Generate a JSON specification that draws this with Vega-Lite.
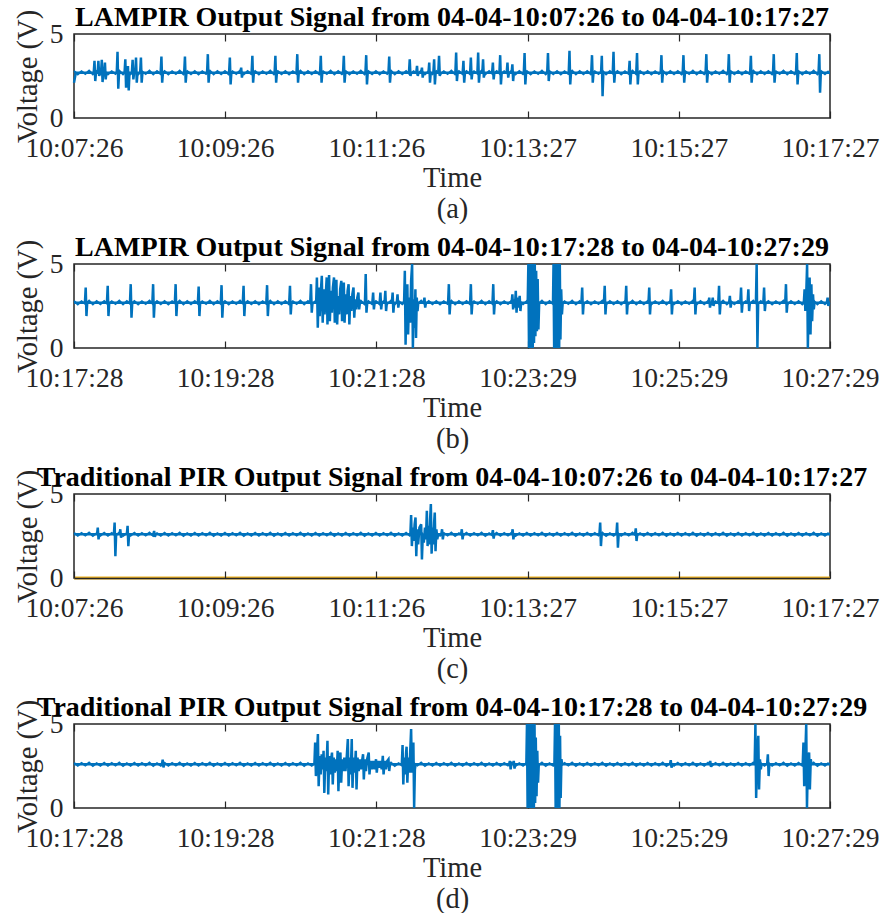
{
"$schema": "https://vega.github.io/schema/vega-lite/v6.json",
"background": "white",
"padding": {"left": 12, "top": 3, "right": 2, "bottom": 2},
"bounds": "flush",
"spacing": 146,
"config": {
  "view": {"stroke": "#262626", "strokeWidth": 1.5},
  "font": "Liberation Serif",
  "axis": {"labelFont": "Liberation Serif", "titleFont": "Liberation Serif", "labelFontSize": 27.5, "titleFontSize": 28.5, "labelColor": "#262626", "titleColor": "#262626", "grid": false, "domain": false, "titleFontWeight": "normal", "tickColor": "#262626", "tickWidth": 1.2},
  "title": {"font": "Liberation Serif", "fontSize": 28, "fontWeight": "bold", "color": "#000000", "baseline": "alphabetic", "offset": -23, "anchor": "middle"}
},
"datasets": {
"noiseAB": [
{"t":0,"v":2.8},{"t":3,"v":2.6},{"t":6,"v":2.78},{"t":9,"v":2.62},{"t":12,"v":2.82},{"t":15,"v":2.59},{"t":18,"v":2.79},{"t":21,"v":2.61},
{"t":24,"v":2.8},{"t":27,"v":2.6},{"t":30,"v":2.78},{"t":33,"v":2.62},{"t":36,"v":2.82},{"t":39,"v":2.59},{"t":42,"v":2.79},{"t":45,"v":2.61},
{"t":48,"v":2.8},{"t":51,"v":2.6},{"t":54,"v":2.78},{"t":57,"v":2.62},{"t":60,"v":2.82},{"t":63,"v":2.59},{"t":66,"v":2.79},{"t":69,"v":2.61},
{"t":72,"v":2.8},{"t":75,"v":2.6},{"t":78,"v":2.78},{"t":81,"v":2.62},{"t":84,"v":2.82},{"t":87,"v":2.59},{"t":90,"v":2.79},{"t":93,"v":2.61},
{"t":96,"v":2.8},{"t":99,"v":2.6},{"t":102,"v":2.78},{"t":105,"v":2.62},{"t":108,"v":2.82},{"t":111,"v":2.59},{"t":114,"v":2.79},{"t":117,"v":2.61},
{"t":120,"v":2.8},{"t":123,"v":2.6},{"t":126,"v":2.78},{"t":129,"v":2.62},{"t":132,"v":2.82},{"t":135,"v":2.59},{"t":138,"v":2.79},{"t":141,"v":2.61},
{"t":144,"v":2.8},{"t":147,"v":2.6},{"t":150,"v":2.78},{"t":153,"v":2.62},{"t":156,"v":2.82},{"t":159,"v":2.59},{"t":162,"v":2.79},{"t":165,"v":2.61},
{"t":168,"v":2.8},{"t":171,"v":2.6},{"t":174,"v":2.78},{"t":177,"v":2.62},{"t":180,"v":2.82},{"t":183,"v":2.59},{"t":186,"v":2.79},{"t":189,"v":2.61},
{"t":192,"v":2.8},{"t":195,"v":2.6},{"t":198,"v":2.78},{"t":201,"v":2.62},{"t":204,"v":2.82},{"t":207,"v":2.59},{"t":210,"v":2.79},{"t":213,"v":2.61},
{"t":216,"v":2.8},{"t":219,"v":2.6},{"t":222,"v":2.78},{"t":225,"v":2.62},{"t":228,"v":2.82},{"t":231,"v":2.59},{"t":234,"v":2.79},{"t":237,"v":2.61},
{"t":240,"v":2.8},{"t":243,"v":2.6},{"t":246,"v":2.78},{"t":249,"v":2.62},{"t":252,"v":2.82},{"t":255,"v":2.59},{"t":258,"v":2.79},{"t":261,"v":2.61},
{"t":264,"v":2.8},{"t":267,"v":2.6},{"t":270,"v":2.78},{"t":273,"v":2.62},{"t":276,"v":2.82},{"t":279,"v":2.59},{"t":282,"v":2.79},{"t":285,"v":2.61},
{"t":288,"v":2.8},{"t":291,"v":2.6},{"t":294,"v":2.78},{"t":297,"v":2.62},{"t":300,"v":2.82},{"t":303,"v":2.59},{"t":306,"v":2.79},{"t":309,"v":2.61},
{"t":312,"v":2.8},{"t":315,"v":2.6},{"t":318,"v":2.78},{"t":321,"v":2.62},{"t":324,"v":2.82},{"t":327,"v":2.59},{"t":330,"v":2.79},{"t":333,"v":2.61},
{"t":336,"v":2.8},{"t":339,"v":2.6},{"t":342,"v":2.78},{"t":345,"v":2.62},{"t":348,"v":2.82},{"t":351,"v":2.59},{"t":354,"v":2.79},{"t":357,"v":2.61},
{"t":360,"v":2.8},{"t":363,"v":2.6},{"t":366,"v":2.78},{"t":369,"v":2.62},{"t":372,"v":2.82},{"t":375,"v":2.59},{"t":378,"v":2.79},{"t":381,"v":2.61},
{"t":384,"v":2.8},{"t":387,"v":2.6},{"t":390,"v":2.78},{"t":393,"v":2.62},{"t":396,"v":2.82},{"t":399,"v":2.59},{"t":402,"v":2.79},{"t":405,"v":2.61},
{"t":408,"v":2.8},{"t":411,"v":2.6},{"t":414,"v":2.78},{"t":417,"v":2.62},{"t":420,"v":2.82},{"t":423,"v":2.59},{"t":426,"v":2.79},{"t":429,"v":2.61},
{"t":432,"v":2.8},{"t":435,"v":2.6},{"t":438,"v":2.78},{"t":441,"v":2.62},{"t":444,"v":2.82},{"t":447,"v":2.59},{"t":450,"v":2.79},{"t":453,"v":2.61},
{"t":456,"v":2.8},{"t":459,"v":2.6},{"t":462,"v":2.78},{"t":465,"v":2.62},{"t":468,"v":2.82},{"t":471,"v":2.59},{"t":474,"v":2.79},{"t":477,"v":2.61},
{"t":480,"v":2.8},{"t":483,"v":2.6},{"t":486,"v":2.78},{"t":489,"v":2.62},{"t":492,"v":2.82},{"t":495,"v":2.59},{"t":498,"v":2.79},{"t":501,"v":2.61},
{"t":504,"v":2.8},{"t":507,"v":2.6},{"t":510,"v":2.78},{"t":513,"v":2.62},{"t":516,"v":2.82},{"t":519,"v":2.59},{"t":522,"v":2.79},{"t":525,"v":2.61},
{"t":528,"v":2.8},{"t":531,"v":2.6},{"t":534,"v":2.78},{"t":537,"v":2.62},{"t":540,"v":2.82},{"t":543,"v":2.59},{"t":546,"v":2.79},{"t":549,"v":2.61},
{"t":552,"v":2.8},{"t":555,"v":2.6},{"t":558,"v":2.78},{"t":561,"v":2.62},{"t":564,"v":2.82},{"t":567,"v":2.59},{"t":570,"v":2.79},{"t":573,"v":2.61},
{"t":576,"v":2.8},{"t":579,"v":2.6},{"t":582,"v":2.78},{"t":585,"v":2.62},{"t":588,"v":2.82},{"t":591,"v":2.59},{"t":594,"v":2.79},{"t":597,"v":2.61},
{"t":600,"v":2.8}
],
"noiseCD": [
{"t":0,"v":2.69},{"t":3,"v":2.51},{"t":6,"v":2.68},{"t":9,"v":2.53},{"t":12,"v":2.7},{"t":15,"v":2.5},{"t":18,"v":2.67},{"t":21,"v":2.52},
{"t":24,"v":2.69},{"t":27,"v":2.51},{"t":30,"v":2.68},{"t":33,"v":2.53},{"t":36,"v":2.7},{"t":39,"v":2.5},{"t":42,"v":2.67},{"t":45,"v":2.52},
{"t":48,"v":2.69},{"t":51,"v":2.51},{"t":54,"v":2.68},{"t":57,"v":2.53},{"t":60,"v":2.7},{"t":63,"v":2.5},{"t":66,"v":2.67},{"t":69,"v":2.52},
{"t":72,"v":2.69},{"t":75,"v":2.51},{"t":78,"v":2.68},{"t":81,"v":2.53},{"t":84,"v":2.7},{"t":87,"v":2.5},{"t":90,"v":2.67},{"t":93,"v":2.52},
{"t":96,"v":2.69},{"t":99,"v":2.51},{"t":102,"v":2.68},{"t":105,"v":2.53},{"t":108,"v":2.7},{"t":111,"v":2.5},{"t":114,"v":2.67},{"t":117,"v":2.52},
{"t":120,"v":2.69},{"t":123,"v":2.51},{"t":126,"v":2.68},{"t":129,"v":2.53},{"t":132,"v":2.7},{"t":135,"v":2.5},{"t":138,"v":2.67},{"t":141,"v":2.52},
{"t":144,"v":2.69},{"t":147,"v":2.51},{"t":150,"v":2.68},{"t":153,"v":2.53},{"t":156,"v":2.7},{"t":159,"v":2.5},{"t":162,"v":2.67},{"t":165,"v":2.52},
{"t":168,"v":2.69},{"t":171,"v":2.51},{"t":174,"v":2.68},{"t":177,"v":2.53},{"t":180,"v":2.7},{"t":183,"v":2.5},{"t":186,"v":2.67},{"t":189,"v":2.52},
{"t":192,"v":2.69},{"t":195,"v":2.51},{"t":198,"v":2.68},{"t":201,"v":2.53},{"t":204,"v":2.7},{"t":207,"v":2.5},{"t":210,"v":2.67},{"t":213,"v":2.52},
{"t":216,"v":2.69},{"t":219,"v":2.51},{"t":222,"v":2.68},{"t":225,"v":2.53},{"t":228,"v":2.7},{"t":231,"v":2.5},{"t":234,"v":2.67},{"t":237,"v":2.52},
{"t":240,"v":2.69},{"t":243,"v":2.51},{"t":246,"v":2.68},{"t":249,"v":2.53},{"t":252,"v":2.7},{"t":255,"v":2.5},{"t":258,"v":2.67},{"t":261,"v":2.52},
{"t":264,"v":2.69},{"t":267,"v":2.51},{"t":270,"v":2.68},{"t":273,"v":2.53},{"t":276,"v":2.7},{"t":279,"v":2.5},{"t":282,"v":2.67},{"t":285,"v":2.52},
{"t":288,"v":2.69},{"t":291,"v":2.51},{"t":294,"v":2.68},{"t":297,"v":2.53},{"t":300,"v":2.7},{"t":303,"v":2.5},{"t":306,"v":2.67},{"t":309,"v":2.52},
{"t":312,"v":2.69},{"t":315,"v":2.51},{"t":318,"v":2.68},{"t":321,"v":2.53},{"t":324,"v":2.7},{"t":327,"v":2.5},{"t":330,"v":2.67},{"t":333,"v":2.52},
{"t":336,"v":2.69},{"t":339,"v":2.51},{"t":342,"v":2.68},{"t":345,"v":2.53},{"t":348,"v":2.7},{"t":351,"v":2.5},{"t":354,"v":2.67},{"t":357,"v":2.52},
{"t":360,"v":2.69},{"t":363,"v":2.51},{"t":366,"v":2.68},{"t":369,"v":2.53},{"t":372,"v":2.7},{"t":375,"v":2.5},{"t":378,"v":2.67},{"t":381,"v":2.52},
{"t":384,"v":2.69},{"t":387,"v":2.51},{"t":390,"v":2.68},{"t":393,"v":2.53},{"t":396,"v":2.7},{"t":399,"v":2.5},{"t":402,"v":2.67},{"t":405,"v":2.52},
{"t":408,"v":2.69},{"t":411,"v":2.51},{"t":414,"v":2.68},{"t":417,"v":2.53},{"t":420,"v":2.7},{"t":423,"v":2.5},{"t":426,"v":2.67},{"t":429,"v":2.52},
{"t":432,"v":2.69},{"t":435,"v":2.51},{"t":438,"v":2.68},{"t":441,"v":2.53},{"t":444,"v":2.7},{"t":447,"v":2.5},{"t":450,"v":2.67},{"t":453,"v":2.52},
{"t":456,"v":2.69},{"t":459,"v":2.51},{"t":462,"v":2.68},{"t":465,"v":2.53},{"t":468,"v":2.7},{"t":471,"v":2.5},{"t":474,"v":2.67},{"t":477,"v":2.52},
{"t":480,"v":2.69},{"t":483,"v":2.51},{"t":486,"v":2.68},{"t":489,"v":2.53},{"t":492,"v":2.7},{"t":495,"v":2.5},{"t":498,"v":2.67},{"t":501,"v":2.52},
{"t":504,"v":2.69},{"t":507,"v":2.51},{"t":510,"v":2.68},{"t":513,"v":2.53},{"t":516,"v":2.7},{"t":519,"v":2.5},{"t":522,"v":2.67},{"t":525,"v":2.52},
{"t":528,"v":2.69},{"t":531,"v":2.51},{"t":534,"v":2.68},{"t":537,"v":2.53},{"t":540,"v":2.7},{"t":543,"v":2.5},{"t":546,"v":2.67},{"t":549,"v":2.52},
{"t":552,"v":2.69},{"t":555,"v":2.51},{"t":558,"v":2.68},{"t":561,"v":2.53},{"t":564,"v":2.7},{"t":567,"v":2.5},{"t":570,"v":2.67},{"t":573,"v":2.52},
{"t":576,"v":2.69},{"t":579,"v":2.51},{"t":582,"v":2.68},{"t":585,"v":2.53},{"t":588,"v":2.7},{"t":591,"v":2.5},{"t":594,"v":2.67},{"t":597,"v":2.52},
{"t":600,"v":2.69}
],
"a": [
{"t":0,"v":2.1},{"t":1.5,"v":2.7},
{"t":15.7,"v":2.7},{"t":16.3,"v":3.4},{"t":16.9,"v":2.2},{"t":17.5,"v":2.7},
{"t":18.8,"v":2.7},{"t":19.4,"v":3.4},{"t":20.0,"v":2.5},{"t":20.6,"v":2.7},
{"t":21.5,"v":2.7},{"t":22.1,"v":3.46},{"t":22.7,"v":2.14},{"t":23.3,"v":2.7},
{"t":24.0,"v":2.7},{"t":24.6,"v":3.3},{"t":25.2,"v":2.3},{"t":25.8,"v":2.7},
{"t":34.0,"v":2.7},{"t":34.6,"v":3.94},{"t":35.2,"v":1.74},{"t":35.8,"v":2.7},
{"t":40.2,"v":2.7},{"t":40.8,"v":3.5},{"t":41.4,"v":1.8},{"t":42.0,"v":2.7},
{"t":42.3,"v":2.7},{"t":42.9,"v":3.1},{"t":43.5,"v":1.64},{"t":44.1,"v":2.7},
{"t":46.0,"v":2.7},{"t":46.6,"v":3.46},{"t":47.2,"v":2.3},{"t":47.8,"v":2.7},
{"t":48.7,"v":2.7},{"t":49.3,"v":3.6},{"t":49.9,"v":2.1},{"t":50.5,"v":2.7},
{"t":52.6,"v":2.7},{"t":53.2,"v":3.6},{"t":53.8,"v":2.1},{"t":54.4,"v":2.7},
{"t":68.9,"v":2.7},{"t":69.5,"v":3.66},{"t":70.1,"v":2.1},{"t":70.7,"v":2.7},
{"t":87.6,"v":2.7},{"t":88.2,"v":3.66},{"t":88.8,"v":2.1},{"t":89.4,"v":2.7},
{"t":105.8,"v":2.7},{"t":106.4,"v":3.8},{"t":107.0,"v":2.1},{"t":107.6,"v":2.7},
{"t":123.3,"v":2.7},{"t":123.9,"v":3.6},{"t":124.5,"v":2.0},{"t":125.1,"v":2.7},
{"t":132.3,"v":2.7},{"t":132.9,"v":3.0},{"t":133.5,"v":2.4},{"t":134.1,"v":2.7},
{"t":141.2,"v":2.7},{"t":141.8,"v":3.7},{"t":142.4,"v":2.1},{"t":143.0,"v":2.7},
{"t":159.5,"v":2.7},{"t":160.1,"v":3.7},{"t":160.7,"v":2.1},{"t":161.3,"v":2.7},
{"t":176.9,"v":2.7},{"t":177.5,"v":3.8},{"t":178.1,"v":2.1},{"t":178.7,"v":2.7},
{"t":195.6,"v":2.7},{"t":196.2,"v":3.7},{"t":196.8,"v":2.1},{"t":197.4,"v":2.7},
{"t":213.9,"v":2.7},{"t":214.5,"v":3.7},{"t":215.1,"v":2.1},{"t":215.7,"v":2.7},
{"t":231.7,"v":2.7},{"t":232.3,"v":3.74},{"t":232.9,"v":2.0},{"t":233.5,"v":2.7},
{"t":250.0,"v":2.7},{"t":250.6,"v":3.66},{"t":251.2,"v":2.1},{"t":251.8,"v":2.7},
{"t":266.3,"v":2.7},{"t":266.9,"v":3.5},{"t":267.5,"v":2.5},{"t":268.1,"v":2.7},
{"t":272.1,"v":2.7},{"t":272.7,"v":3.1},{"t":273.3,"v":2.5},{"t":273.9,"v":2.7},
{"t":276.0,"v":2.7},{"t":276.6,"v":3.0},{"t":277.2,"v":2.4},{"t":277.8,"v":2.7},
{"t":281.8,"v":2.7},{"t":282.4,"v":3.3},{"t":283.0,"v":2.1},{"t":283.6,"v":2.7},
{"t":285.7,"v":2.7},{"t":286.3,"v":3.5},{"t":286.9,"v":2.0},{"t":287.5,"v":2.7},
{"t":289.6,"v":2.7},{"t":290.2,"v":3.7},{"t":290.8,"v":2.5},{"t":291.4,"v":2.7},
{"t":303.2,"v":2.7},{"t":303.8,"v":3.9},{"t":304.4,"v":2.2},{"t":305.0,"v":2.7},
{"t":309.0,"v":2.7},{"t":309.6,"v":3.4},{"t":310.2,"v":2.1},{"t":310.8,"v":2.7},
{"t":314.9,"v":2.7},{"t":315.5,"v":3.6},{"t":316.1,"v":2.3},{"t":316.7,"v":2.7},
{"t":320.7,"v":2.7},{"t":321.3,"v":3.9},{"t":321.9,"v":2.1},{"t":322.5,"v":2.7},
{"t":324.6,"v":2.7},{"t":325.2,"v":3.5},{"t":325.8,"v":2.4},{"t":326.4,"v":2.7},
{"t":332.4,"v":2.7},{"t":333.0,"v":3.3},{"t":333.6,"v":2.3},{"t":334.2,"v":2.7},
{"t":338.2,"v":2.7},{"t":338.8,"v":3.74},{"t":339.4,"v":2.0},{"t":340.0,"v":2.7},
{"t":344.0,"v":2.7},{"t":344.6,"v":3.3},{"t":345.2,"v":2.4},{"t":345.8,"v":2.7},
{"t":347.9,"v":2.7},{"t":348.5,"v":3.2},{"t":349.1,"v":2.2},{"t":349.7,"v":2.7},
{"t":357.6,"v":2.7},{"t":358.2,"v":3.86},{"t":358.8,"v":2.0},{"t":359.4,"v":2.7},
{"t":376.2,"v":2.7},{"t":376.8,"v":3.86},{"t":377.4,"v":2.2},{"t":378.0,"v":2.7},
{"t":393.3,"v":2.7},{"t":393.9,"v":4.0},{"t":394.5,"v":2.0},{"t":395.1,"v":2.7},
{"t":411.2,"v":2.7},{"t":411.8,"v":3.74},{"t":412.4,"v":2.1},{"t":413.0,"v":2.7},
{"t":419.0,"v":2.7},{"t":419.6,"v":3.7},{"t":420.2,"v":1.3},{"t":420.8,"v":2.7},
{"t":428.3,"v":2.7},{"t":428.9,"v":3.94},{"t":429.5,"v":2.1},{"t":430.1,"v":2.7},
{"t":441.1,"v":2.7},{"t":441.7,"v":3.4},{"t":442.3,"v":2.0},{"t":442.9,"v":2.7},
{"t":447.0,"v":2.7},{"t":447.6,"v":3.86},{"t":448.2,"v":2.0},{"t":448.8,"v":2.7},
{"t":466.4,"v":2.7},{"t":467.0,"v":3.74},{"t":467.6,"v":2.1},{"t":468.2,"v":2.7},
{"t":483.9,"v":2.7},{"t":484.5,"v":3.74},{"t":485.1,"v":2.1},{"t":485.7,"v":2.7},
{"t":502.1,"v":2.7},{"t":502.7,"v":3.8},{"t":503.3,"v":2.1},{"t":503.9,"v":2.7},
{"t":520.0,"v":2.7},{"t":520.6,"v":3.8},{"t":521.2,"v":2.1},{"t":521.8,"v":2.7},
{"t":537.5,"v":2.7},{"t":538.1,"v":3.7},{"t":538.7,"v":2.1},{"t":539.3,"v":2.7},
{"t":555.7,"v":2.7},{"t":556.3,"v":3.8},{"t":556.9,"v":2.1},{"t":557.5,"v":2.7},
{"t":574.0,"v":2.7},{"t":574.6,"v":3.86},{"t":575.2,"v":2.0},{"t":575.8,"v":2.7},
{"t":591.9,"v":2.7},{"t":592.5,"v":3.8},{"t":593.1,"v":1.5},{"t":593.7,"v":2.7},
{"t":601,"v":2.7}
],
"b": [
{"t":0,"v":2.7},
{"t":8.7,"v":2.7},{"t":9.3,"v":3.6},{"t":9.9,"v":1.9},{"t":10.5,"v":2.7},
{"t":26.2,"v":2.7},{"t":26.8,"v":3.7},{"t":27.4,"v":1.9},{"t":28.0,"v":2.7},
{"t":44.5,"v":2.7},{"t":45.1,"v":3.8},{"t":45.7,"v":1.8},{"t":46.3,"v":2.7},
{"t":62.3,"v":2.7},{"t":62.9,"v":3.8},{"t":63.5,"v":1.8},{"t":64.1,"v":2.7},
{"t":80.2,"v":2.7},{"t":80.8,"v":3.8},{"t":81.4,"v":1.9},{"t":82.0,"v":2.7},
{"t":98.5,"v":2.7},{"t":99.1,"v":3.66},{"t":99.7,"v":1.9},{"t":100.3,"v":2.7},
{"t":116.7,"v":2.7},{"t":117.3,"v":3.74},{"t":117.9,"v":1.8},{"t":118.5,"v":2.7},
{"t":134.2,"v":2.7},{"t":134.8,"v":3.7},{"t":135.4,"v":1.9},{"t":136.0,"v":2.7},
{"t":152.9,"v":2.7},{"t":153.5,"v":3.74},{"t":154.1,"v":1.9},{"t":154.7,"v":2.7},
{"t":171.1,"v":2.7},{"t":171.7,"v":3.7},{"t":172.3,"v":2.0},{"t":172.9,"v":2.7},
{"t":187.8,"v":2.7},{"t":188.4,"v":3.8},{"t":189.0,"v":2.1},{"t":189.6,"v":2.7},
{"t":192.5,"v":2.7},{"t":193.1,"v":4.2},{"t":193.8,"v":1.2},{"t":194.6,"v":3.6},{"t":195.3,"v":1.9},{"t":196.1,"v":3.2},{"t":197.0,"v":4.3},{"t":197.7,"v":1.5},{"t":198.5,"v":3.5},{"t":199.2,"v":2.0},{"t":200.0,"v":3.0},{"t":200.9,"v":4.2},{"t":201.5,"v":1.4},{"t":202.1,"v":3.3},{"t":202.8,"v":4.34},{"t":203.4,"v":1.6},{"t":204.2,"v":3.4},{"t":205.0,"v":2.1},{"t":205.8,"v":3.6},{"t":206.7,"v":4.2},{"t":207.3,"v":1.5},{"t":208.0,"v":3.2},{"t":208.6,"v":4.06},{"t":209.2,"v":1.4},{"t":210.0,"v":3.1},{"t":210.8,"v":2.0},{"t":211.6,"v":3.5},{"t":212.5,"v":4.0},{"t":213.1,"v":1.6},{"t":213.8,"v":3.0},{"t":214.5,"v":3.9},{"t":215.1,"v":1.5},{"t":215.9,"v":3.2},{"t":216.7,"v":2.0},{"t":217.5,"v":3.4},{"t":218.3,"v":3.8},{"t":218.9,"v":1.4},{"t":219.7,"v":3.1},{"t":220.5,"v":2.2},{"t":221.3,"v":3.2},{"t":222.2,"v":3.6},{"t":222.8,"v":1.8},{"t":223.6,"v":2.9},{"t":224.4,"v":2.3},{"t":225.2,"v":3.0},{"t":226.1,"v":3.3},{"t":226.7,"v":2.3},{"t":227.3,"v":2.7},
{"t":231.3,"v":2.7},{"t":231.9,"v":4.4},{"t":232.5,"v":2.1},{"t":233.1,"v":2.7},
{"t":237.2,"v":2.7},{"t":237.8,"v":3.3},{"t":238.4,"v":2.3},{"t":239.0,"v":2.7},
{"t":243.0,"v":2.7},{"t":243.6,"v":3.3},{"t":244.2,"v":2.3},{"t":244.8,"v":2.7},
{"t":246.9,"v":2.7},{"t":247.5,"v":3.4},{"t":248.1,"v":2.2},{"t":248.7,"v":2.7},
{"t":252.7,"v":2.7},{"t":253.3,"v":3.3},{"t":253.9,"v":2.1},{"t":254.5,"v":2.7},
{"t":256.6,"v":2.7},{"t":257.2,"v":3.2},{"t":257.8,"v":2.4},{"t":258.4,"v":2.7},
{"t":262.4,"v":2.7},{"t":263.0,"v":4.6},{"t":263.6,"v":0.2},{"t":264.3,"v":3.2},{"t":265.0,"v":3.8},{"t":265.6,"v":0.8},{"t":266.4,"v":3.0},{"t":267.2,"v":1.5},{"t":268.0,"v":4.0},{"t":268.8,"v":5.0},{"t":269.4,"v":0.0},{"t":270.1,"v":2.9},{"t":270.8,"v":1.2},{"t":271.4,"v":3.5},{"t":271.9,"v":0.6},{"t":272.5,"v":3.0},{"t":273.1,"v":2.2},{"t":273.7,"v":2.7},
{"t":278.0,"v":2.7},{"t":278.6,"v":3.0},{"t":279.2,"v":2.4},{"t":279.8,"v":2.7},
{"t":297.4,"v":2.7},{"t":298.0,"v":3.8},{"t":298.6,"v":2.0},{"t":299.2,"v":2.7},
{"t":314.9,"v":2.7},{"t":315.5,"v":3.8},{"t":316.1,"v":2.0},{"t":316.7,"v":2.7},
{"t":332.7,"v":2.7},{"t":333.3,"v":3.8},{"t":333.9,"v":2.0},{"t":334.5,"v":2.7},
{"t":347.9,"v":2.7},{"t":348.5,"v":3.2},{"t":349.1,"v":2.3},{"t":349.8,"v":2.9},{"t":350.5,"v":2.4},{"t":351.2,"v":3.4},{"t":351.8,"v":2.1},{"t":352.6,"v":3.0},{"t":353.5,"v":2.4},{"t":354.3,"v":3.1},{"t":354.9,"v":2.2},{"t":355.5,"v":2.7},
{"t":360.7,"v":2.7},{"t":361.2,"v":5},{"t":361.7,"v":0},{"t":362.2,"v":5},{"t":362.7,"v":0},{"t":363.2,"v":5},{"t":363.7,"v":0},{"t":364.2,"v":5},{"t":364.7,"v":0},{"t":365.2,"v":5},{"t":365.7,"v":0.3},{"t":366.3,"v":5},{"t":366.8,"v":0.7},{"t":367.4,"v":4.6},{"t":368.0,"v":1.0},{"t":368.6,"v":4.1},{"t":369.2,"v":1.1},{"t":369.8,"v":2.7},
{"t":380.8,"v":2.7},{"t":381.2,"v":5},{"t":381.7,"v":0},{"t":382.2,"v":5},{"t":382.7,"v":0},{"t":383.2,"v":5},{"t":383.7,"v":0},{"t":384.2,"v":5},{"t":384.7,"v":0},{"t":385.2,"v":5},{"t":385.7,"v":0},{"t":386.2,"v":5},{"t":386.7,"v":0.5},{"t":387.3,"v":3.5},{"t":387.9,"v":2.0},{"t":388.5,"v":2.7},
{"t":403.4,"v":2.7},{"t":404.0,"v":3.6},{"t":404.6,"v":2.0},{"t":405.2,"v":2.7},
{"t":421.3,"v":2.7},{"t":421.9,"v":3.7},{"t":422.5,"v":2.0},{"t":423.1,"v":2.7},
{"t":438.4,"v":2.7},{"t":439.0,"v":3.7},{"t":439.6,"v":2.0},{"t":440.2,"v":2.7},
{"t":456.7,"v":2.7},{"t":457.3,"v":3.6},{"t":457.9,"v":2.0},{"t":458.5,"v":2.7},
{"t":474.1,"v":2.7},{"t":474.7,"v":3.5},{"t":475.3,"v":2.0},{"t":475.9,"v":2.7},
{"t":492.8,"v":2.7},{"t":493.4,"v":3.6},{"t":494.0,"v":2.0},{"t":494.6,"v":2.7},
{"t":504.4,"v":2.7},{"t":505.0,"v":3.0},{"t":505.6,"v":2.4},{"t":506.2,"v":2.7},
{"t":507.2,"v":2.7},{"t":507.8,"v":3.0},{"t":508.4,"v":2.5},{"t":509.0,"v":2.7},
{"t":512.2,"v":2.7},{"t":512.8,"v":3.7},{"t":513.4,"v":2.0},{"t":514.0,"v":2.7},
{"t":520.8,"v":2.7},{"t":521.4,"v":3.1},{"t":522.0,"v":2.4},{"t":522.6,"v":2.7},
{"t":529.7,"v":2.7},{"t":530.3,"v":3.6},{"t":530.9,"v":2.1},{"t":531.5,"v":2.7},
{"t":535.5,"v":2.7},{"t":536.1,"v":3.5},{"t":536.7,"v":2.2},{"t":537.3,"v":2.7},
{"t":542.1,"v":2.7},{"t":542.7,"v":5.0},{"t":543.3,"v":0.0},{"t":543.9,"v":2.7},
{"t":548.0,"v":2.7},{"t":548.6,"v":3.6},{"t":549.2,"v":2.2},{"t":549.8,"v":2.7},
{"t":565.4,"v":2.7},{"t":566.0,"v":3.8},{"t":566.6,"v":2.1},{"t":567.2,"v":2.7},
{"t":580.2,"v":2.7},{"t":580.8,"v":3.5},{"t":581.4,"v":2.2},{"t":582.0,"v":2.9},{"t":582.8,"v":5.0},{"t":583.4,"v":0.0},{"t":584.1,"v":3.0},{"t":584.8,"v":4.2},{"t":585.5,"v":0.8},{"t":586.2,"v":3.8},{"t":586.8,"v":1.6},{"t":587.5,"v":3.2},{"t":588.1,"v":2.3},{"t":588.7,"v":2.7},
{"t":598.5,"v":2.7},{"t":599.1,"v":3.0},{"t":599.7,"v":2.5},{"t":600.3,"v":2.7},
{"t":601,"v":2.7}
],
"c": [
{"t":0,"v":2.6},
{"t":18.3,"v":2.6},{"t":18.9,"v":3.0},{"t":19.5,"v":2.3},{"t":20.1,"v":2.6},
{"t":31.7,"v":2.6},{"t":32.3,"v":3.3},{"t":32.9,"v":1.3},{"t":33.5,"v":2.6},
{"t":36.2,"v":2.6},{"t":36.8,"v":2.9},{"t":37.4,"v":2.4},{"t":38.0,"v":2.6},
{"t":42.0,"v":2.6},{"t":42.6,"v":3.1},{"t":43.2,"v":1.9},{"t":43.8,"v":2.6},
{"t":63.1,"v":2.6},{"t":63.7,"v":2.8},{"t":64.3,"v":2.45},{"t":64.9,"v":2.6},
{"t":267.4,"v":2.6},{"t":268.0,"v":3.75},{"t":268.6,"v":1.9},{"t":269.3,"v":3.0},{"t":270.0,"v":2.2},{"t":270.8,"v":3.2},{"t":271.5,"v":3.6},{"t":272.1,"v":1.3},{"t":272.8,"v":2.9},{"t":273.6,"v":2.0},{"t":274.6,"v":3.0},{"t":276.0,"v":3.2},{"t":276.6,"v":1.1},{"t":277.3,"v":2.6},{"t":278.1,"v":2.1},{"t":279.0,"v":3.0},{"t":279.8,"v":2.3},{"t":280.5,"v":4.0},{"t":281.1,"v":1.9},{"t":281.8,"v":3.1},{"t":282.5,"v":2.0},{"t":283.1,"v":3.5},{"t":283.7,"v":4.4},{"t":284.3,"v":1.45},{"t":285.0,"v":3.0},{"t":285.7,"v":2.0},{"t":286.3,"v":3.3},{"t":286.8,"v":3.9},{"t":287.4,"v":1.6},{"t":288.1,"v":2.9},{"t":288.8,"v":2.3},{"t":289.5,"v":2.6},
{"t":292.0,"v":2.6},{"t":292.6,"v":2.9},{"t":293.2,"v":2.3},{"t":293.8,"v":2.6},
{"t":307.7,"v":2.6},{"t":308.3,"v":2.9},{"t":308.9,"v":2.3},{"t":309.5,"v":2.6},
{"t":332.4,"v":2.6},{"t":333.0,"v":2.85},{"t":333.6,"v":2.35},{"t":334.2,"v":2.6},
{"t":348.1,"v":2.6},{"t":348.7,"v":2.9},{"t":349.3,"v":2.3},{"t":349.9,"v":2.6},
{"t":417.7,"v":2.6},{"t":418.3,"v":3.3},{"t":418.9,"v":1.9},{"t":419.5,"v":2.6},
{"t":431.2,"v":2.6},{"t":431.8,"v":3.3},{"t":432.4,"v":1.8},{"t":433.0,"v":2.6},
{"t":446.0,"v":2.6},{"t":446.6,"v":2.95},{"t":447.2,"v":2.2},{"t":447.8,"v":2.6},
{"t":601,"v":2.6}
],
"d": [
{"t":0,"v":2.6},
{"t":69.9,"v":2.6},{"t":70.5,"v":2.88},{"t":71.1,"v":2.42},{"t":71.7,"v":2.6},
{"t":191.1,"v":2.6},{"t":191.7,"v":3.9},{"t":192.3,"v":1.9},{"t":193.0,"v":3.0},{"t":193.9,"v":4.4},{"t":194.5,"v":1.3},{"t":195.3,"v":3.1},{"t":196.1,"v":2.0},{"t":196.9,"v":3.2},{"t":197.7,"v":2.3},{"t":198.4,"v":3.4},{"t":199.0,"v":0.9},{"t":199.8,"v":3.0},{"t":200.6,"v":2.2},{"t":201.5,"v":4.0},{"t":202.1,"v":0.8},{"t":202.9,"v":3.1},{"t":203.7,"v":2.0},{"t":204.4,"v":2.9},{"t":205.1,"v":3.3},{"t":205.7,"v":1.4},{"t":206.5,"v":3.0},{"t":207.3,"v":2.1},{"t":208.1,"v":2.9},{"t":208.9,"v":2.2},{"t":209.6,"v":3.4},{"t":210.2,"v":1.0},{"t":211.0,"v":3.0},{"t":211.8,"v":3.3},{"t":212.4,"v":1.5},{"t":213.2,"v":2.9},{"t":214.0,"v":2.2},{"t":214.9,"v":3.0},{"t":215.8,"v":2.2},{"t":216.7,"v":2.9},{"t":217.7,"v":4.1},{"t":218.3,"v":1.3},{"t":219.1,"v":3.0},{"t":220.0,"v":2.0},{"t":220.8,"v":4.1},{"t":221.4,"v":1.2},{"t":222.2,"v":3.0},{"t":223.1,"v":2.1},{"t":224.0,"v":3.4},{"t":224.6,"v":1.1},{"t":225.4,"v":3.0},{"t":226.3,"v":2.2},{"t":227.2,"v":2.9},{"t":228.1,"v":2.3},{"t":229.0,"v":2.8},{"t":229.8,"v":3.2},{"t":230.4,"v":1.7},{"t":231.2,"v":2.9},{"t":232.1,"v":2.2},{"t":233.0,"v":2.9},{"t":234.3,"v":3.3},{"t":234.9,"v":2.0},{"t":235.8,"v":2.8},{"t":236.8,"v":2.3},{"t":237.9,"v":2.8},{"t":239.0,"v":2.3},{"t":240.1,"v":2.9},{"t":240.7,"v":2.1},{"t":241.6,"v":2.8},{"t":242.6,"v":2.4},{"t":243.7,"v":2.8},{"t":244.6,"v":2.3},{"t":245.5,"v":3.1},{"t":246.1,"v":2.0},{"t":247.0,"v":2.8},{"t":248.0,"v":2.3},{"t":249.0,"v":2.8},{"t":250.0,"v":2.9},{"t":250.6,"v":2.2},{"t":251.2,"v":2.6},
{"t":260.6,"v":2.6},{"t":261.2,"v":3.75},{"t":261.8,"v":1.4},{"t":262.5,"v":3.0},{"t":263.3,"v":2.0},{"t":264.0,"v":3.3},{"t":264.4,"v":3.65},{"t":265.0,"v":1.5},{"t":265.8,"v":3.0},{"t":266.6,"v":2.1},{"t":267.3,"v":3.4},{"t":268.0,"v":4.7},{"t":268.6,"v":2.1},{"t":269.3,"v":3.2},{"t":269.8,"v":3.9},{"t":270.4,"v":0.0},{"t":271.0,"v":2.3},{"t":271.6,"v":2.6},
{"t":345.9,"v":2.6},{"t":346.5,"v":2.8},{"t":347.1,"v":2.3},{"t":347.7,"v":2.6},
{"t":349.0,"v":2.6},{"t":349.6,"v":2.8},{"t":350.2,"v":2.35},{"t":350.8,"v":2.6},
{"t":359.6,"v":2.6},{"t":360.1,"v":5},{"t":360.6,"v":0},{"t":361.1,"v":5},{"t":361.6,"v":0},{"t":362.1,"v":5},{"t":362.6,"v":0},{"t":363.1,"v":5},{"t":363.6,"v":0},{"t":364.1,"v":5},{"t":364.6,"v":0},{"t":365.1,"v":5},{"t":365.6,"v":0},{"t":366.1,"v":5},{"t":366.6,"v":0.3},{"t":367.1,"v":4.2},{"t":367.7,"v":0.7},{"t":368.3,"v":3.4},{"t":368.9,"v":1.5},{"t":369.5,"v":2.6},
{"t":381.9,"v":2.6},{"t":382.4,"v":5},{"t":382.9,"v":0},{"t":383.4,"v":5},{"t":383.9,"v":0},{"t":384.4,"v":5},{"t":384.9,"v":0},{"t":385.4,"v":5},{"t":385.9,"v":0},{"t":386.4,"v":4.3},{"t":386.9,"v":0.6},{"t":387.5,"v":2.9},{"t":388.1,"v":2.6},
{"t":473.8,"v":2.6},{"t":474.4,"v":2.85},{"t":475.0,"v":2.4},{"t":475.6,"v":2.6},
{"t":505.2,"v":2.6},{"t":505.8,"v":2.8},{"t":506.4,"v":2.45},{"t":507.0,"v":2.6},
{"t":541.1,"v":2.6},{"t":541.7,"v":5.0},{"t":542.3,"v":0.6},{"t":543.0,"v":3.0},{"t":544.0,"v":4.3},{"t":544.6,"v":1.1},{"t":545.3,"v":2.9},{"t":546.0,"v":2.3},{"t":546.6,"v":2.6},
{"t":551.0,"v":2.6},{"t":551.6,"v":3.2},{"t":552.2,"v":1.9},{"t":552.8,"v":2.6},
{"t":579.3,"v":2.6},{"t":579.9,"v":3.9},{"t":580.5,"v":1.3},{"t":581.3,"v":3.0},{"t":582.1,"v":5.0},{"t":582.7,"v":0.0},{"t":583.4,"v":2.8},{"t":584.4,"v":3.3},{"t":585.0,"v":1.1},{"t":585.7,"v":2.9},{"t":586.3,"v":2.6},
{"t":601,"v":2.6}
],
"zero": [{"t":0,"v":0},{"t":601,"v":0}]
},
"vconcat": [
{
 "width": 756, "height": 84,
 "title": {"text": "LAMPIR Output Signal from 04-04-10:07:26 to 04-04-10:17:27"},
 "layer": [
  {"data": {"name": "noiseAB"}, "mark": {"type": "line", "color": "#0072BD", "strokeWidth": 2},
   "encoding": {
    "x": {"field": "t", "type": "quantitative", "scale": {"domain": [0, 601], "nice": false, "zero": false},
          "axis": {"values": [0, 120.2, 240.4, 360.6, 480.8, 601], "labelExpr": "utcFormat(round(datum.value + 36446) * 1000, '%H:%M:%S')", "tickSize": -7, "labelPadding": 23, "labelFlush": false, "labelOverlap": false, "title": ["Time", "(a)"], "titleLineHeight": 31, "titlePadding": 2}},
    "y": {"field": "v", "type": "quantitative", "scale": {"domain": [0, 5], "nice": false}, "axis": {"values": [0, 5], "ticks": false, "labelPadding": 11, "title": "Voltage (V)", "titlePadding": 7}}
   }},
  {"data": {"name": "a"}, "mark": {"type": "line", "color": "#0072BD", "strokeWidth": 2.5},
   "encoding": {
    "x": {"field": "t", "type": "quantitative", "axis": {"orient": "top", "values": [0, 120.2, 240.4, 360.6, 480.8, 601], "labels": false, "tickSize": -7, "title": null, "minExtent": 0, "maxExtent": 0}},
    "y": {"field": "v", "type": "quantitative", "axis": {"values": [0, 5], "ticks": false, "labelPadding": 11, "title": "Voltage (V)", "titlePadding": 7}}
   }}
 ],
 "resolve": {"axis": {"x": "independent"}}
},
{
 "width": 756, "height": 84,
 "title": {"text": "LAMPIR Output Signal from 04-04-10:17:28 to 04-04-10:27:29"},
 "layer": [
  {"data": {"name": "noiseAB"}, "mark": {"type": "line", "color": "#0072BD", "strokeWidth": 2},
   "encoding": {
    "x": {"field": "t", "type": "quantitative", "scale": {"domain": [0, 601], "nice": false, "zero": false},
          "axis": {"values": [0, 120.2, 240.4, 360.6, 480.8, 601], "labelExpr": "utcFormat(round(datum.value + 37048) * 1000, '%H:%M:%S')", "tickSize": -7, "labelPadding": 23, "labelFlush": false, "labelOverlap": false, "title": ["Time", "(b)"], "titleLineHeight": 31, "titlePadding": 2}},
    "y": {"field": "v", "type": "quantitative", "scale": {"domain": [0, 5], "nice": false}, "axis": {"values": [0, 5], "ticks": false, "labelPadding": 11, "title": "Voltage (V)", "titlePadding": 7}}
   }},
  {"data": {"name": "b"}, "mark": {"type": "line", "color": "#0072BD", "strokeWidth": 2.5},
   "encoding": {
    "x": {"field": "t", "type": "quantitative", "axis": {"orient": "top", "values": [0, 120.2, 240.4, 360.6, 480.8, 601], "labels": false, "tickSize": -7, "title": null, "minExtent": 0, "maxExtent": 0}},
    "y": {"field": "v", "type": "quantitative", "axis": {"values": [0, 5], "ticks": false, "labelPadding": 11, "title": "Voltage (V)", "titlePadding": 7}}
   }}
 ],
 "resolve": {"axis": {"x": "independent"}}
},
{
 "width": 756, "height": 84,
 "title": {"text": "Traditional PIR Output Signal from 04-04-10:07:26 to 04-04-10:17:27"},
 "layer": [
  {"data": {"name": "noiseCD"}, "mark": {"type": "line", "color": "#0072BD", "strokeWidth": 2},
   "encoding": {
    "x": {"field": "t", "type": "quantitative", "scale": {"domain": [0, 601], "nice": false, "zero": false},
          "axis": {"values": [0, 120.2, 240.4, 360.6, 480.8, 601], "labelExpr": "utcFormat(round(datum.value + 36446) * 1000, '%H:%M:%S')", "tickSize": -7, "labelPadding": 23, "labelFlush": false, "labelOverlap": false, "title": ["Time", "(c)"], "titleLineHeight": 31, "titlePadding": 2, "domain": true, "domainColor": "#262626", "domainWidth": 1.5, "zindex": 1}},
    "y": {"field": "v", "type": "quantitative", "scale": {"domain": [0, 5], "nice": false}, "axis": {"values": [0, 5], "ticks": false, "labelPadding": 11, "title": "Voltage (V)", "titlePadding": 7}}
   }},
  {"data": {"name": "c"}, "mark": {"type": "line", "color": "#0072BD", "strokeWidth": 2.5},
   "encoding": {
    "x": {"field": "t", "type": "quantitative", "axis": {"orient": "top", "values": [0, 120.2, 240.4, 360.6, 480.8, 601], "labels": false, "tickSize": -7, "title": null, "minExtent": 0, "maxExtent": 0}},
    "y": {"field": "v", "type": "quantitative", "axis": {"values": [0, 5], "ticks": false, "labelPadding": 11, "title": "Voltage (V)", "titlePadding": 7}}
   }},
  {"data": {"name": "zero"}, "mark": {"type": "line", "color": "#EDB120", "strokeWidth": 3},
   "encoding": {
    "x": {"field": "t", "type": "quantitative", "axis": null},
    "y": {"field": "v", "type": "quantitative", "axis": {"values": [0, 5], "ticks": false, "labelPadding": 11, "title": "Voltage (V)", "titlePadding": 7}}
   }}
 ],
 "resolve": {"axis": {"x": "independent"}}
},
{
 "width": 756, "height": 84,
 "title": {"text": "Traditional PIR Output Signal from 04-04-10:17:28 to 04-04-10:27:29"},
 "layer": [
  {"data": {"name": "noiseCD"}, "mark": {"type": "line", "color": "#0072BD", "strokeWidth": 2},
   "encoding": {
    "x": {"field": "t", "type": "quantitative", "scale": {"domain": [0, 601], "nice": false, "zero": false},
          "axis": {"values": [0, 120.2, 240.4, 360.6, 480.8, 601], "labelExpr": "utcFormat(round(datum.value + 37048) * 1000, '%H:%M:%S')", "tickSize": -7, "labelPadding": 23, "labelFlush": false, "labelOverlap": false, "title": ["Time", "(d)"], "titleLineHeight": 31, "titlePadding": 2}},
    "y": {"field": "v", "type": "quantitative", "scale": {"domain": [0, 5], "nice": false}, "axis": {"values": [0, 5], "ticks": false, "labelPadding": 11, "title": "Voltage (V)", "titlePadding": 7}}
   }},
  {"data": {"name": "d"}, "mark": {"type": "line", "color": "#0072BD", "strokeWidth": 2.5},
   "encoding": {
    "x": {"field": "t", "type": "quantitative", "axis": {"orient": "top", "values": [0, 120.2, 240.4, 360.6, 480.8, 601], "labels": false, "tickSize": -7, "title": null, "minExtent": 0, "maxExtent": 0}},
    "y": {"field": "v", "type": "quantitative", "axis": {"values": [0, 5], "ticks": false, "labelPadding": 11, "title": "Voltage (V)", "titlePadding": 7}}
   }}
 ],
 "resolve": {"axis": {"x": "independent"}}
}
]
}
